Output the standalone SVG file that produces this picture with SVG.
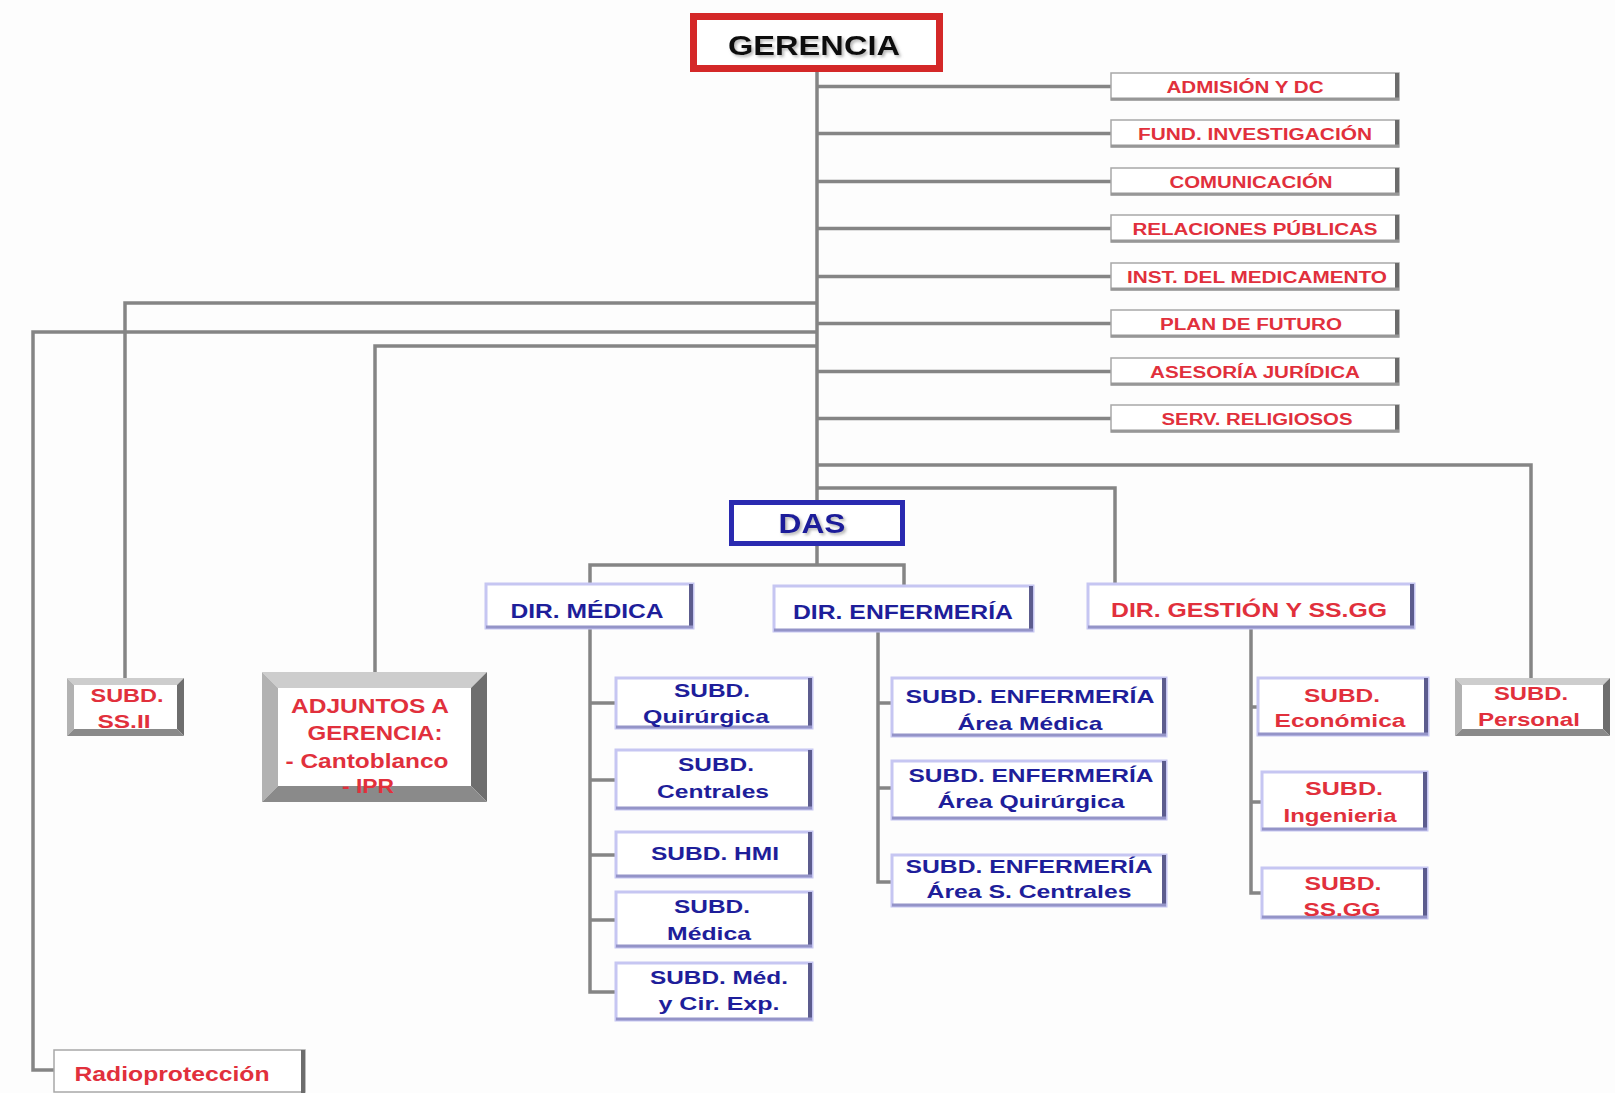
<svg xmlns="http://www.w3.org/2000/svg" width="1615" height="1093" viewBox="0 0 1615 1093">
<defs>
<filter id="sh" x="-10%" y="-30%" width="130%" height="170%">
<feDropShadow dx="2" dy="2" stdDeviation="1.5" flood-color="#777" flood-opacity="0.55"/>
</filter>
</defs>
<style>
text{font-family:"Liberation Sans",Arial,sans-serif;font-weight:bold;text-anchor:middle}
.red{fill:#e1303c}
.blue{fill:#1e1e9a}
.conn{fill:none;stroke:#858585;stroke-width:3.5;stroke-linejoin:miter}
.gbox{fill:#fff;stroke:#a8a8a8;stroke-width:1.5}
.gr{stroke:#6c6c6c;stroke-width:4}
.gb{stroke:#979797;stroke-width:3}
.bbox{fill:#fff;stroke:#c6c6f2;stroke-width:3}
.br{stroke:#5c5c8e;stroke-width:4}
.bb{stroke:#9494c8;stroke-width:3}
.t1{fill:#cdcdcd}.t2{fill:#b2b2b2}.t3{fill:#6e6e6e}.t4{fill:#8a8a8a}
.s15{font-size:16px}.s18{font-size:19px}.s19{font-size:20px}.s21{font-size:21px}.s28{font-size:28px}
</style>
<rect width="1615" height="1093" fill="#fdfdfd"/>

<g id="connectors">
<path class="conn" d="M817,72 V500"/>
<path class="conn" d="M817,86.5 H1111 M817,133.5 H1111 M817,181.5 H1111 M817,228.5 H1111 M817,276.5 H1111 M817,323.5 H1111 M817,371.5 H1111 M817,418.5 H1111"/>
<path class="conn" d="M817,303 H125 V678"/>
<path class="conn" d="M817,332 H33 V1070 H54"/>
<path class="conn" d="M817,346 H375 V672"/>
<path class="conn" d="M817,465 H1531 V678"/>
<path class="conn" d="M817,488 H1115 V584"/>
<path class="conn" d="M817,546 V565 M590,584 V565 H904 V586"/>
<path class="conn" d="M590,628 V992 H616 M590,703 H616 M590,780 H616 M590,855 H616 M590,920 H616"/>
<path class="conn" d="M878,631 V882 H892 M878,703 H892 M878,788 H892"/>
<path class="conn" d="M1251,628 V893 H1262 M1251,707 H1258 M1251,802 H1262"/>
</g>

<g id="gerencia">
<rect x="693.5" y="16.5" width="246" height="52" fill="#fff" stroke="#d42828" stroke-width="7"/>
<text class="s28" x="814" y="55" fill="#111" textLength="172" lengthAdjust="spacingAndGlyphs" filter="url(#sh)">GERENCIA</text>
</g>

<g id="admision">
<rect class="gbox" x="1111" y="73" width="288" height="27"/><line class="gr" x1="1397" y1="73" x2="1397" y2="100"/><line class="gb" x1="1111" y1="99" x2="1399" y2="99"/>
<text class="red s15" x="1245" y="93" textLength="157" lengthAdjust="spacingAndGlyphs">ADMISIÓN Y DC</text>
</g>
<g id="fund">
<rect class="gbox" x="1111" y="120" width="288" height="27"/><line class="gr" x1="1397" y1="120" x2="1397" y2="147"/><line class="gb" x1="1111" y1="146" x2="1399" y2="146"/>
<text class="red s15" x="1255" y="140" textLength="234" lengthAdjust="spacingAndGlyphs">FUND. INVESTIGACIÓN</text>
</g>
<g id="comunicacion">
<rect class="gbox" x="1111" y="168" width="288" height="27"/><line class="gr" x1="1397" y1="168" x2="1397" y2="195"/><line class="gb" x1="1111" y1="194" x2="1399" y2="194"/>
<text class="red s15" x="1251" y="188" textLength="163" lengthAdjust="spacingAndGlyphs">COMUNICACIÓN</text>
</g>
<g id="relaciones">
<rect class="gbox" x="1111" y="215" width="288" height="27"/><line class="gr" x1="1397" y1="215" x2="1397" y2="242"/><line class="gb" x1="1111" y1="241" x2="1399" y2="241"/>
<text class="red s15" x="1255" y="235" textLength="245" lengthAdjust="spacingAndGlyphs">RELACIONES PÚBLICAS</text>
</g>
<g id="inst">
<rect class="gbox" x="1111" y="263" width="288" height="27"/><line class="gr" x1="1397" y1="263" x2="1397" y2="290"/><line class="gb" x1="1111" y1="289" x2="1399" y2="289"/>
<text class="red s15" x="1257" y="283" textLength="260" lengthAdjust="spacingAndGlyphs">INST. DEL MEDICAMENTO</text>
</g>
<g id="plan">
<rect class="gbox" x="1111" y="310" width="288" height="27"/><line class="gr" x1="1397" y1="310" x2="1397" y2="337"/><line class="gb" x1="1111" y1="336" x2="1399" y2="336"/>
<text class="red s15" x="1251" y="330" textLength="182" lengthAdjust="spacingAndGlyphs">PLAN DE FUTURO</text>
</g>
<g id="asesoria">
<rect class="gbox" x="1111" y="358" width="288" height="27"/><line class="gr" x1="1397" y1="358" x2="1397" y2="385"/><line class="gb" x1="1111" y1="384" x2="1399" y2="384"/>
<text class="red s15" x="1255" y="378" textLength="210" lengthAdjust="spacingAndGlyphs">ASESORÍA JURÍDICA</text>
</g>
<g id="serv">
<rect class="gbox" x="1111" y="405" width="288" height="27"/><line class="gr" x1="1397" y1="405" x2="1397" y2="432"/><line class="gb" x1="1111" y1="431" x2="1399" y2="431"/>
<text class="red s15" x="1257" y="425" textLength="191" lengthAdjust="spacingAndGlyphs">SERV. RELIGIOSOS</text>
</g>

<g id="das">
<rect x="731.5" y="502.5" width="171" height="41" fill="#fff" stroke="#2a2ab0" stroke-width="5"/>
<text class="blue s28" x="812" y="533" textLength="67" lengthAdjust="spacingAndGlyphs" filter="url(#sh)">DAS</text>
</g>

<g id="dir-medica">
<rect class="bbox" x="486" y="584" width="207" height="44"/><line class="br" x1="691" y1="584" x2="691" y2="628"/><line class="bb" x1="486" y1="627" x2="693" y2="627"/>
<text class="blue s19" x="587" y="618" textLength="153" lengthAdjust="spacingAndGlyphs">DIR. MÉDICA</text>
</g>
<g id="dir-enfermeria">
<rect class="bbox" x="774" y="586" width="259" height="45"/><line class="br" x1="1031" y1="586" x2="1031" y2="631"/><line class="bb" x1="774" y1="630" x2="1033" y2="630"/>
<text class="blue s19" x="903" y="619" textLength="220" lengthAdjust="spacingAndGlyphs">DIR. ENFERMERÍA</text>
</g>
<g id="dir-gestion">
<rect class="bbox" x="1088" y="584" width="326" height="44"/><line class="br" x1="1412" y1="584" x2="1412" y2="628"/><line class="bb" x1="1088" y1="627" x2="1414" y2="627"/>
<text class="red s19" x="1249" y="617" textLength="276" lengthAdjust="spacingAndGlyphs">DIR. GESTIÓN Y SS.GG</text>
</g>

<g id="subd-quirurgica">
<rect class="bbox" x="616" y="678" width="196" height="50"/><line class="br" x1="810" y1="678" x2="810" y2="728"/><line class="bb" x1="616" y1="727" x2="812" y2="727"/>
<text class="blue s18" x="712" y="697" textLength="76" lengthAdjust="spacingAndGlyphs">SUBD.</text>
<text class="blue s18" x="706" y="723" textLength="126" lengthAdjust="spacingAndGlyphs">Quirúrgica</text>
</g>
<g id="subd-centrales">
<rect class="bbox" x="616" y="750" width="196" height="59"/><line class="br" x1="810" y1="750" x2="810" y2="809"/><line class="bb" x1="616" y1="808" x2="812" y2="808"/>
<text class="blue s18" x="716" y="771" textLength="76" lengthAdjust="spacingAndGlyphs">SUBD.</text>
<text class="blue s18" x="713" y="798" textLength="112" lengthAdjust="spacingAndGlyphs">Centrales</text>
</g>
<g id="subd-hmi">
<rect class="bbox" x="616" y="832" width="196" height="45"/><line class="br" x1="810" y1="832" x2="810" y2="877"/><line class="bb" x1="616" y1="876" x2="812" y2="876"/>
<text class="blue s18" x="715" y="860" textLength="128" lengthAdjust="spacingAndGlyphs">SUBD. HMI</text>
</g>
<g id="subd-medica">
<rect class="bbox" x="616" y="892" width="196" height="55"/><line class="br" x1="810" y1="892" x2="810" y2="947"/><line class="bb" x1="616" y1="946" x2="812" y2="946"/>
<text class="blue s18" x="712" y="913" textLength="76" lengthAdjust="spacingAndGlyphs">SUBD.</text>
<text class="blue s18" x="709" y="940" textLength="84" lengthAdjust="spacingAndGlyphs">Médica</text>
</g>
<g id="subd-med-cir">
<rect class="bbox" x="616" y="963" width="196" height="57"/><line class="br" x1="810" y1="963" x2="810" y2="1020"/><line class="bb" x1="616" y1="1019" x2="812" y2="1019"/>
<text class="blue s18" x="719" y="984" textLength="138" lengthAdjust="spacingAndGlyphs">SUBD. Méd.</text>
<text class="blue s18" x="719" y="1010" textLength="121" lengthAdjust="spacingAndGlyphs">y Cir. Exp.</text>
</g>

<g id="enf-medica">
<rect class="bbox" x="892" y="678" width="274" height="58"/><line class="br" x1="1164" y1="678" x2="1164" y2="736"/><line class="bb" x1="892" y1="735" x2="1166" y2="735"/>
<text class="blue s18" x="1030" y="703" textLength="249" lengthAdjust="spacingAndGlyphs">SUBD. ENFERMERÍA</text>
<text class="blue s18" x="1030" y="730" textLength="145" lengthAdjust="spacingAndGlyphs">Área Médica</text>
</g>
<g id="enf-quirurgica">
<rect class="bbox" x="892" y="761" width="274" height="58"/><line class="br" x1="1164" y1="761" x2="1164" y2="819"/><line class="bb" x1="892" y1="818" x2="1166" y2="818"/>
<text class="blue s18" x="1031" y="782" textLength="245" lengthAdjust="spacingAndGlyphs">SUBD. ENFERMERÍA</text>
<text class="blue s18" x="1031" y="808" textLength="187" lengthAdjust="spacingAndGlyphs">Área Quirúrgica</text>
</g>
<g id="enf-centrales">
<rect class="bbox" x="892" y="855" width="274" height="51"/><line class="br" x1="1164" y1="855" x2="1164" y2="906"/><line class="bb" x1="892" y1="905" x2="1166" y2="905"/>
<text class="blue s18" x="1029" y="873" textLength="247" lengthAdjust="spacingAndGlyphs">SUBD. ENFERMERÍA</text>
<text class="blue s18" x="1029" y="898" textLength="205" lengthAdjust="spacingAndGlyphs">Área S. Centrales</text>
</g>

<g id="subd-economica">
<rect class="bbox" x="1258" y="678" width="170" height="57"/><line class="br" x1="1426" y1="678" x2="1426" y2="735"/><line class="bb" x1="1258" y1="734" x2="1428" y2="734"/>
<text class="red s18" x="1342" y="702" textLength="76" lengthAdjust="spacingAndGlyphs">SUBD.</text>
<text class="red s18" x="1340" y="727" textLength="131" lengthAdjust="spacingAndGlyphs">Económica</text>
</g>
<g id="subd-ingenieria">
<rect class="bbox" x="1262" y="772" width="165" height="58"/><line class="br" x1="1425" y1="772" x2="1425" y2="830"/><line class="bb" x1="1262" y1="829" x2="1427" y2="829"/>
<text class="red s18" x="1344" y="795" textLength="78" lengthAdjust="spacingAndGlyphs">SUBD.</text>
<text class="red s18" x="1340" y="822" textLength="113" lengthAdjust="spacingAndGlyphs">Ingenieria</text>
</g>
<g id="subd-ssgg">
<rect class="bbox" x="1262" y="868" width="165" height="50"/><line class="br" x1="1425" y1="868" x2="1425" y2="918"/><line class="bb" x1="1262" y1="917" x2="1427" y2="917"/>
<text class="red s18" x="1343" y="890" textLength="77" lengthAdjust="spacingAndGlyphs">SUBD.</text>
<text class="red s18" x="1342" y="916" textLength="77" lengthAdjust="spacingAndGlyphs">SS.GG</text>
</g>

<g id="subd-personal">
<rect x="1455" y="678" width="155" height="58" fill="#fff"/>
<polygon class="t1" points="1455,678 1610,678 1603,685 1462,685"/>
<polygon class="t2" points="1455,678 1462,685 1462,729 1455,736"/>
<polygon class="t3" points="1610,678 1610,736 1603,729 1603,685"/>
<polygon class="t4" points="1455,736 1610,736 1603,729 1462,729"/>
<text class="red s18" x="1531" y="700" textLength="74" lengthAdjust="spacingAndGlyphs">SUBD.</text>
<text class="red s18" x="1529" y="726" textLength="102" lengthAdjust="spacingAndGlyphs">Personal</text>
</g>

<g id="subd-ssii">
<rect x="67" y="678" width="117" height="58" fill="#fff"/>
<polygon class="t1" points="67,678 184,678 177,685 74,685"/>
<polygon class="t2" points="67,678 74,685 74,729 67,736"/>
<polygon class="t3" points="184,678 184,736 177,729 177,685"/>
<polygon class="t4" points="67,736 184,736 177,729 74,729"/>
<text class="red s18" x="127" y="702" textLength="73" lengthAdjust="spacingAndGlyphs">SUBD.</text>
<text class="red s18" x="124" y="728" textLength="53" lengthAdjust="spacingAndGlyphs">SS.II</text>
</g>

<g id="adjuntos">
<rect x="262" y="672" width="225" height="130" fill="#fff"/>
<polygon class="t1" points="262,672 487,672 471,688 278,688"/>
<polygon class="t2" points="262,672 278,688 278,786 262,802"/>
<polygon class="t3" points="487,672 487,802 471,786 471,688"/>
<polygon class="t4" points="262,802 487,802 471,786 278,786"/>
<text class="red s21" x="370" y="713" textLength="158" lengthAdjust="spacingAndGlyphs">ADJUNTOS A</text>
<text class="red s21" x="375" y="740" textLength="135" lengthAdjust="spacingAndGlyphs">GERENCIA:</text>
<text class="red s21" x="367" y="768" textLength="163" lengthAdjust="spacingAndGlyphs">- Cantoblanco</text>
<text class="red s21" x="368" y="793" textLength="52" lengthAdjust="spacingAndGlyphs">- IPR</text>
</g>

<g id="radioproteccion">
<rect class="gbox" x="54" y="1050" width="251" height="42"/><line class="gr" x1="303" y1="1050" x2="303" y2="1093"/>
<text class="red s19" x="172" y="1081" textLength="195" lengthAdjust="spacingAndGlyphs">Radioprotección</text>
</g>
</svg>
